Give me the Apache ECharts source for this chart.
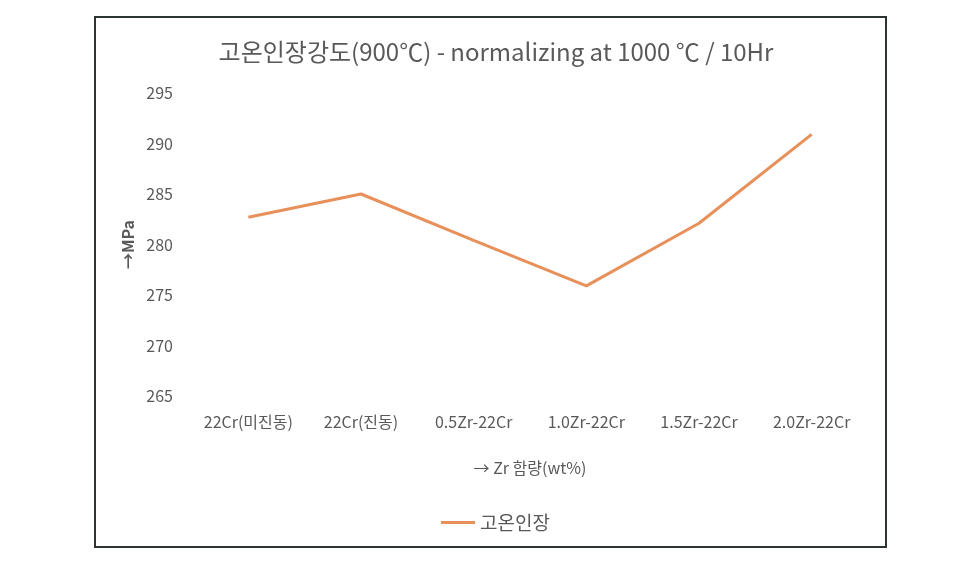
<!DOCTYPE html>
<html>
<head>
<meta charset="utf-8">
<script src="https://cdn.jsdelivr.net/npm/echarts@6/dist/echarts.min.js"></script>
<style>
  html, body { margin: 0; padding: 0; background: #fff; }
  #chart { width: 961px; height: 574px; }
</style>
</head>
<body>
<div id="chart"></div>
<script>
  const categories = ['22Cr(미진동)', '22Cr(진동)', '0.5Zr-22Cr', '1.0Zr-22Cr', '1.5Zr-22Cr', '2.0Zr-22Cr'];
  const strength = [282.7, 285, 280.4, 275.9, 282.1, 290.9];
  const seriesName = '고온인장';

  const font = '"Noto Sans CJK KR", "Noto Sans", sans-serif';
  const textColor = '#595959';

  let myChart = echarts.init(document.getElementById('chart'));
  let option = {
    backgroundColor: '#fff',
    textStyle: { fontFamily: font },
    title: {
      text: '고온인장강도(900℃) - normalizing at 1000 ℃ / 10Hr',
      left: 491,
      textAlign: 'center',
      top: 35,
      textStyle: { fontFamily: font, fontSize: 24, fontWeight: 'normal', color: textColor }
    },
    graphic: [{
      type: 'rect',
      shape: { x: 95, y: 17, width: 791, height: 530 },
      style: { fill: 'none', stroke: '#2b3433', lineWidth: 2 },
      silent: true
    }],
    legend: {
      data: [seriesName],
      left: 436,
      top: 508,
      itemWidth: 34,
      itemHeight: 3,
      itemGap: 3,
      icon: 'rect',
      textStyle: { fontFamily: font, fontSize: 19, color: textColor }
    },
    grid: { left: 192, right: 93, top: 93, bottom: 178 },
    xAxis: {
      type: 'category',
      data: categories,
      boundaryGap: true,
      name: '→ Zr 함량(wt%)',
      nameLocation: 'middle',
      nameGap: 64,
      nameTextStyle: { fontFamily: font, fontSize: 16, color: textColor },
      axisLine: { show: false },
      axisTick: { show: false },
      axisLabel: { fontFamily: font, fontSize: 16, color: textColor, margin: 18, interval: 0 }
    },
    yAxis: {
      type: 'value',
      min: 265,
      max: 295,
      interval: 5,
      name: '→MPa',
      nameLocation: 'middle',
      nameGap: 54,
      nameRotate: 90,
      nameTextStyle: { fontFamily: font, fontSize: 16, fontWeight: 'bold', color: textColor },
      axisLine: { show: false },
      axisTick: { show: false },
      splitLine: { show: false },
      axisLabel: { fontFamily: font, fontSize: 16, color: textColor, margin: 19 }
    },
    series: [{
      name: seriesName,
      type: 'line',
      data: strength,
      symbol: 'none',
      lineStyle: { color: '#E8905A', width: 3 },
      itemStyle: { color: '#E8905A' }
    }]
  };
  myChart.setOption(option);
</script>
</body>
</html>
